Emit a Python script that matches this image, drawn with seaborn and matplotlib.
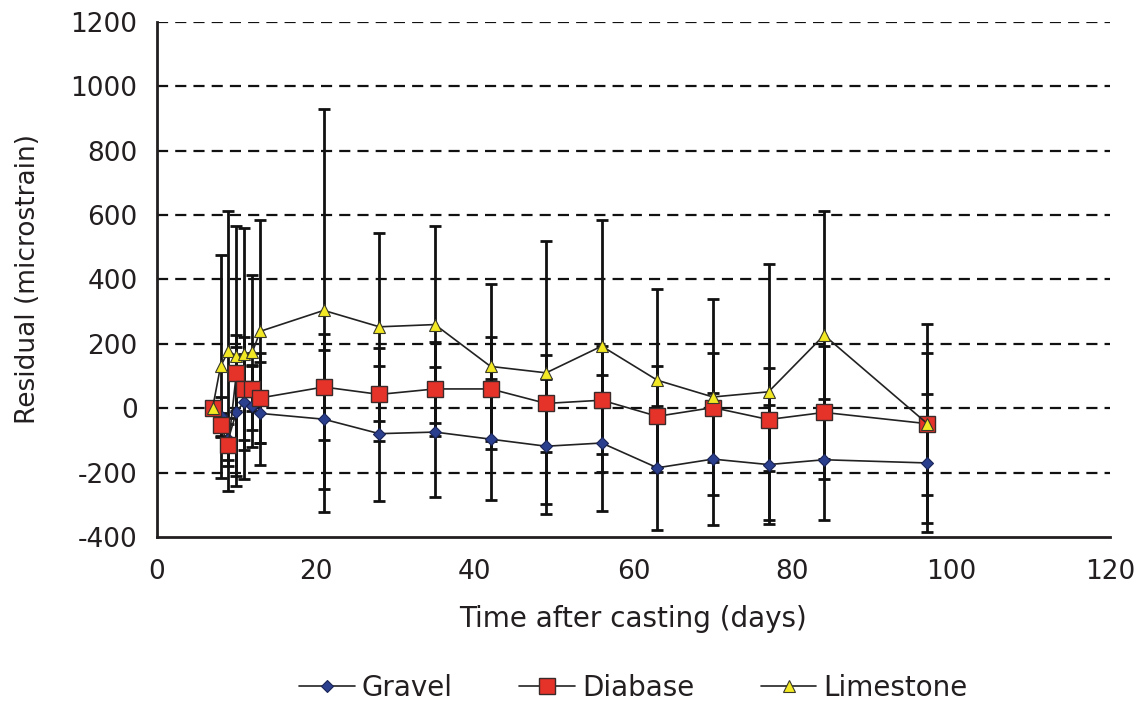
import matplotlib
matplotlib.use("Agg")
import matplotlib.pyplot as plt
import seaborn as sns
import pandas as pd
import numpy as np

days = [7, 8, 9, 10, 11, 12, 13, 21, 28, 35, 42, 49, 56, 63, 70, 77, 84, 97]
gravel = [0, -25, -95, -11, 20, 7, -16, -34, -79, -74, -96, -118, -108, -185, -158, -175, -160, -170]
gravel_err = [0, 60, 66, 200, 150, 127, 159, 216, 209, 203, 188, 210, 210, 192, 205, 186, 188, 215]
diabase = [0, -52, -115, 110, 60, 60, 32, 66, 43, 60, 60, 15, 25, -25, 2, -35, -13, -48]
diabase_err = [0, 37, 65, 117, 160, 70, 140, 165, 144, 145, 162, 150, 168, 156, 170, 160, 207, 220]
limestone = [0, 130, 178, 162, 170, 174, 239, 304, 253, 260, 130, 110, 193, 87, 35, 51, 227, -48]
limestone_err = [0, 346, 435, 404, 390, 241, 346, 625, 292, 306, 256, 409, 391, 285, 305, 398, 385, 310]

series_names = ["Gravel", "Diabase", "Limestone"]
x_ticks = [0, 20, 40, 60, 80, 100, 120]
y_ticks = [-400, -200, 0, 200, 400, 600, 800, 1000, 1200]
x_label = "Time after casting (days)"
y_label = "Residual (microstrain)"

sns.set_theme(style="white")
plt.rcParams["font.family"] = ["DejaVu Sans"]
plt.rcParams["axes.unicode_minus"] = False
ink = "#231f20"

fig = plt.figure(figsize=(11.4, 7.05), dpi=100)
ax = fig.add_axes([0.1377, 0.2383, 0.836, 0.7305])

data = {"Gravel": (gravel, gravel_err), "Diabase": (diabase, diabase_err),
        "Limestone": (limestone, limestone_err)}
styles = {
    "Gravel": dict(marker="D", ms=6, mfc="#2b3f8f", mec="#1a2456", mew=0.8),
    "Diabase": dict(marker="s", ms=11, mfc="#e5332a", mec="#3a2a2a", mew=1.0),
    "Limestone": dict(marker="^", ms=9, mfc="#f3e824", mec="#3a3a2a", mew=0.8),
}

# error bars first
for name in series_names:
    vals, errs = data[name]
    ax.errorbar(days, vals, yerr=errs, fmt="none", ecolor="#111111",
                elinewidth=2.0, capsize=4.5, capthick=2.0, zorder=2)

for name in series_names:
    vals, _ = data[name]
    df = pd.DataFrame({"day": days, "value": vals})
    sns.lineplot(data=df, x="day", y="value", ax=ax, color="#222222", lw=1.2,
                 sort=False, estimator=None, errorbar=None, label=name,
                 zorder=3, **styles[name])

ax.set_xlim(0, 120)
ax.set_ylim(-400, 1200)
ax.set_xticks(x_ticks)
ax.set_yticks(y_ticks)
ax.tick_params(axis="both", labelsize=19, colors=ink, direction="out",
               length=5, width=1.5, pad=8)
ax.tick_params(axis="y", pad=9)
ax.tick_params(axis="x", pad=11)
for t in ax.get_xticklabels() + ax.get_yticklabels():
    t.set_color(ink)

for yv in y_ticks[1:]:
    ax.axhline(yv, color="#111111", lw=1.6, ls=(0, (5, 3.2)), zorder=1)

sns.despine(ax=ax, top=True, right=True)
for s in ["left", "bottom"]:
    ax.spines[s].set_color(ink)
    ax.spines[s].set_linewidth(2.0)

ax.set_xlabel(x_label, fontsize=20, color=ink, labelpad=14)
ax.set_ylabel(y_label, fontsize=19, color=ink, labelpad=21)

handles, labels = ax.get_legend_handles_labels()
leg = ax.legend(handles, labels, loc="center", bbox_to_anchor=(0.5, -0.293),
                ncol=3, frameon=False, fontsize=20, handlelength=2.0,
                handletextpad=0.25, columnspacing=2.4)
for t in leg.get_texts():
    t.set_color(ink)

fig.savefig("out.png", dpi=100)
